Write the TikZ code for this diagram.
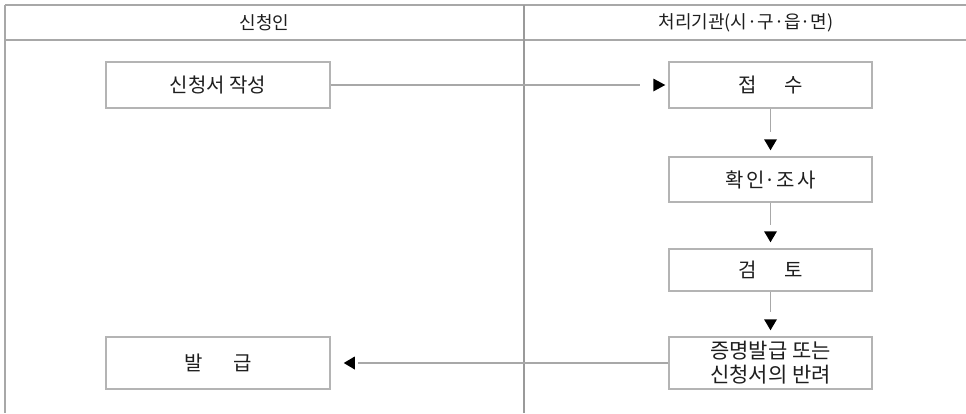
\documentclass[tikz,border=0pt]{standalone}
\usepackage{fontspec}
\setmainfont{Noto Sans CJK KR}
\definecolor{linegray}{HTML}{A8A8A8}
\definecolor{divgray}{HTML}{9A9A9A}
\definecolor{boxgray}{HTML}{B4B4B4}
\definecolor{textc}{HTML}{1E1E1E}
\begin{document}
\begin{tikzpicture}[x=1pt,y=-1pt,
  frame/.style={draw=linegray, line width=1.5pt},
  conn/.style={draw=linegray, line width=1.3pt},
  tipfill/.style={fill=black},
  stepbox/.style={draw=boxgray, line width=1.5pt, rectangle, inner sep=0pt,
    text=textc, font=\fontsize{20}{23}\selectfont, align=center},
  head/.style={text=textc, font=\fontsize{18}{20}\selectfont, inner sep=0pt}]
\useasboundingbox (0,0) rectangle (966,413);
% frame
\coordinate (tl) at (5,5);
\coordinate (tr) at (966,5);
\coordinate (hl) at (5,40);
\coordinate (hr) at (966,40);
\coordinate (bl) at (5,413);
\coordinate (dt) at (524,5);
\coordinate (db) at (524,413);
\draw[frame] (tl) -- (tr);
\draw[frame] (hl) -- (hr);
\draw[frame] (tl) -- (bl);
\draw[draw=divgray, line width=1.5pt] (dt) -- (db);
\node[head] (h1) at (264.5,22.5) {신청인};
\node[head] (h2) at (746,22.5) {처리기관(시·구·읍·면)};
% boxes
\node[stepbox, minimum width=224pt, minimum height=46pt] (a) at (218,85) {신청서 작성};
\node[stepbox, minimum width=203pt, minimum height=46pt] (b) at (770.5,85) {접\hspace{27pt}수};
\node[stepbox, minimum width=203pt, minimum height=45pt] (c) at (770.5,179.5) {확\hspace{2pt}인\hspace{0.5pt}·\hspace{0.5pt}조\hspace{2pt}사};
\node[stepbox, minimum width=203pt, minimum height=42pt] (d) at (770.5,270) {검\hspace{27pt}토};
\node[stepbox, minimum width=203pt, minimum height=52pt, font=\fontsize{21}{24}\selectfont] (e) at (770.5,363) {증명발급 또는\\신청서의 반려};
\node[stepbox, minimum width=224pt, minimum height=52pt] (f) at (218,363) {발\hspace{30pt}급};
% a -> b
\draw[conn] (a.east) -- ([shift={(-28,0)}]b.west);
\fill[tipfill] ([shift={(-15,-6.5)}]b.west) -- ([shift={(-3,0)}]b.west) -- ([shift={(-15,6.5)}]b.west) -- cycle;
% b -> c
\draw[conn] (b.south) -- ([shift={(0,-24)}]c.north);
\fill[tipfill] ([shift={(-6.5,-17)}]c.north) -- ([shift={(6.5,-17)}]c.north) -- ([shift={(0,-6)}]c.north) -- cycle;
% c -> d
\draw[conn] (c.south) -- ([shift={(0,-23)}]d.north);
\fill[tipfill] ([shift={(-6.5,-17)}]d.north) -- ([shift={(6.5,-17)}]d.north) -- ([shift={(0,-6)}]d.north) -- cycle;
% d -> e
\draw[conn] (d.south) -- ([shift={(0,-24)}]e.north);
\fill[tipfill] ([shift={(-6.5,-17)}]e.north) -- ([shift={(6.5,-17)}]e.north) -- ([shift={(0,-6)}]e.north) -- cycle;
% e -> f
\draw[conn] (e.west) -- ([shift={(27,0)}]f.east);
\fill[tipfill] ([shift={(24,-6.5)}]f.east) -- ([shift={(13,0)}]f.east) -- ([shift={(24,6.5)}]f.east) -- cycle;
\end{tikzpicture}
\end{document}
